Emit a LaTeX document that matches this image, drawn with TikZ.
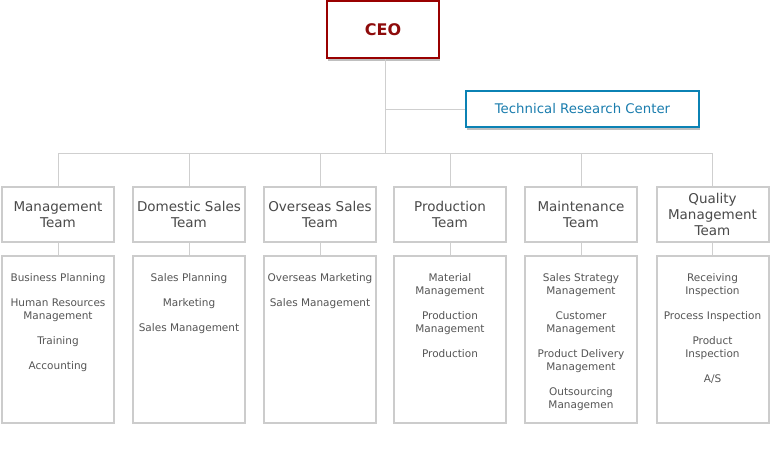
\documentclass[tikz,border=0pt]{standalone}
\usepackage{fontspec}
\setmainfont{DejaVu Sans}
\usetikzlibrary{shadows}
\definecolor{ceored}{HTML}{990000}
\definecolor{ceotext}{HTML}{8E0B0B}
\definecolor{trcblue}{HTML}{0B82B4}
\definecolor{trctext}{HTML}{1A7DAE}
\definecolor{boxgray}{HTML}{CCCCCC}
\definecolor{linegray}{HTML}{CFCFCF}
\definecolor{titlegray}{HTML}{4A4A4A}
\definecolor{itemgray}{HTML}{555555}
\begin{document}
\begin{tikzpicture}[x=1pt,y=-1pt,
  boxshadow/.style={drop shadow={shadow xshift=1pt,shadow yshift=-3pt,fill=black,opacity=0.25}},
  ceobox/.style={draw=ceored,line width=2.2pt,fill=white,boxshadow,minimum width=112pt,minimum height=57pt,inner sep=0pt,text=ceotext,font=\fontsize{16}{19}\selectfont\bfseries},
  trcbox/.style={draw=trcblue,line width=2.2pt,fill=white,boxshadow,minimum width=233pt,minimum height=36pt,inner sep=0pt,text=trctext,font=\fontsize{13.3}{16}\selectfont},
  team/.style={draw=boxgray,line width=2pt,fill=white,minimum width=112pt,minimum height=55pt,inner sep=0pt,align=center,text=titlegray,font=\fontsize{13.5}{15.8}\selectfont},
  list/.style={draw=boxgray,line width=2pt,fill=white,minimum width=112pt,minimum height=167pt,inner sep=0pt},
  items/.style={anchor=north,inner sep=0pt,align=center,text=itemgray,font=\fontsize{10.5}{13}\selectfont},
  link/.style={draw=linegray,line width=1pt}]
\useasboundingbox (0,0) rectangle (770,450);

% top level
\node[ceobox] (ceo) at (383,29.5) {CEO};
\node[trcbox] (trc) at (582.5,109) {Technical Research Center};

% teams
\node[team] (t1) at (58,214.5) {Management\\Team};
\node[team] (t2) at (189,214.5) {Domestic Sales\\Team};
\node[team] (t3) at (320,214.5) {Overseas Sales\\Team};
\node[team] (t4) at (450,214.5) {Production\\Team};
\node[team] (t5) at (581,214.5) {Maintenance\\Team};
\node[team] (t6) at (712.5,214.5) {Quality\\Management\\Team};

% lists
\node[list] (l1) at (58,339.5) {};
\node[list] (l2) at (189,339.5) {};
\node[list] (l3) at (320,339.5) {};
\node[list] (l4) at (450,339.5) {};
\node[list] (l5) at (581,339.5) {};
\node[list] (l6) at (712.5,339.5) {};

\node[items] (i1) at (58,273) {Business Planning\\[12pt]Human Resources\\Management\\[12pt]Training\\[12pt]Accounting};
\node[items] (i2) at (189,273) {Sales Planning\\[12pt]Marketing\\[12pt]Sales Management};
\node[items] (i3) at (320,273) {Overseas Marketing\\[12pt]Sales Management};
\node[items] (i4) at (450,273) {Material\\Management\\[12pt]Production\\Management\\[12pt]Production};
\node[items] (i5) at (581,273) {Sales Strategy\\Management\\[12pt]Customer\\Management\\[12pt]Product Delivery\\Management\\[12pt]Outsourcing\\Managemen};
\node[items] (i6) at (712.5,273) {Receiving\\Inspection\\[12pt]Process Inspection\\[12pt]Product\\Inspection\\[12pt]A/S};

% connectors
\coordinate (bus) at (385.5,153.5);
\draw[link] (ceo.south -| bus) -- (bus);
\draw[link] (trc.west -| bus) -- (trc.west);
\draw[link] (t1.north |- bus) -- (t6.north |- bus);
\foreach \k in {1,...,6}{
  \draw[link] (t\k.north |- bus) -- (t\k.north);
  \draw[link] (t\k.south) -- (l\k.north);
}
\end{tikzpicture}
\end{document}
